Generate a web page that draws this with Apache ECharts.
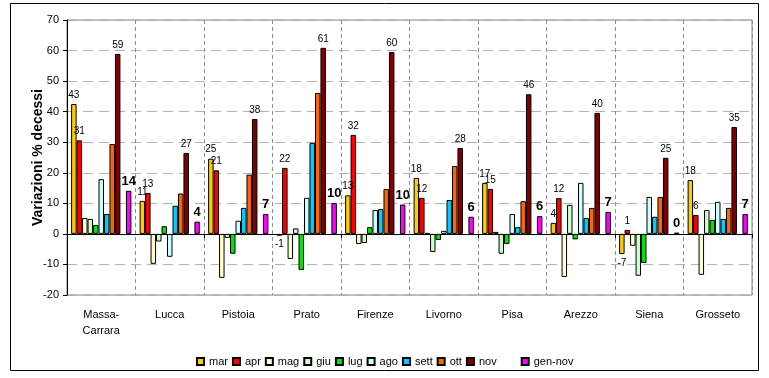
<!DOCTYPE html>
<html>
<head>
<meta charset="utf-8">
<script src="https://cdn.jsdelivr.net/npm/echarts@6/dist/echarts.min.js"></script>
<style>
html,body{margin:0;padding:0;background:#fff;}
#c{width:769px;height:378px;}
</style>
</head>
<body>
<div id="c"></div>
<script>
const categories = ['Massa-Carrara','Lucca','Pistoia','Prato','Firenze','Livorno','Pisa','Arezzo','Siena','Grosseto'];
const mar    = [42.5, 10.8, 24.6, -0.6, 12.6, 18.3, 16.7, 3.6, -6.6, 17.6];
const apr    = [30.6, 13.4, 20.8, 21.6, 32.4, 11.8, 14.7, 11.7, 1.3, 6.2];
const mag    = [5.2, -9.8, -14.4, -8.2, -3.3, 0.3, 0.65, -14.1, -3.9, -13.4];
const giu    = [4.9, -2.5, -1.3, 1.8, -3.0, -5.9, -6.5, 9.5, -13.7, 7.8];
const lug    = [2.9, 2.5, -6.5, -11.8, 2.2, -2.0, -3.3, -1.8, -9.5, 4.6];
const ago    = [17.9, -7.5, 4.3, 11.8, 7.8, 1.0, 6.5, 16.7, 12.1, 10.5];
const sett   = [6.5, 9.2, 8.5, 29.8, 8.1, 11.1, 2.2, 5.2, 5.6, 4.9];
const ott    = [29.4, 13.2, 19.4, 46.1, 14.7, 22.2, 10.7, 8.5, 12.1, 8.5];
const nov    = [58.9, 26.5, 37.6, 60.9, 59.5, 28.1, 45.7, 39.6, 24.9, 35.0];
const genNov = [14.1, 4.0, 6.5, 10.1, 9.6, 5.6, 5.8, 7.2, 0.4, 6.5];
const blank  = [null, null, null, null, null, null, null, null, null, null];

const FONT = "'Liberation Sans', Arial, sans-serif";

const seriesDefs = [
  {name:'mar', data:mar, color:'#FFCC00', label:'small'},
  {name:'apr', data:apr, color:'#FF0000', label:'small'},
  {name:'mag', data:mag, color:'#FFFFCC'},
  {name:'giu', data:giu, color:'#CCFFCC'},
  {name:'lug', data:lug, color:'#00E600'},
  {name:'ago', data:ago, color:'#CCFFFF'},
  {name:'sett', data:sett, color:'#00CCFF'},
  {name:'ott', data:ott, color:'#FF6600'},
  {name:'nov', data:nov, color:'#800000', label:'small'},
  {name:' ', data:blank, color:'transparent'},
  {name:'gen-nov', data:genNov, color:'#FF00FF', label:'big'}
];

const series = seriesDefs.map(function(d){
  const s = {
    name: d.name,
    type: 'bar',
    barGap: '0%',
    barCategoryGap: '12%',
    itemStyle: {color: d.color, borderColor: d.color === 'transparent' ? 'transparent' : '#000', borderWidth: 1},
    emphasis: {disabled: true},
    data: d.data.map(function(v){
      if (d.label && v !== null && v < 0) return {value: v, label: {position: 'bottom'}};
      return v;
    })
  };
  if (d.label) {
    s.label = {
      show: true,
      position: 'top',
      distance: d.label === 'big' ? 3 : 4,
      color: '#000',
      fontFamily: FONT,
      fontSize: d.label === 'big' ? 13 : 10,
      fontWeight: d.label === 'big' ? 'bold' : 'normal',
      formatter: function(p){ return String(Math.round(p.value)); }
    };
  }
  return s;
});

const chart = echarts.init(document.getElementById('c'), null, {renderer:'canvas'});
chart.setOption({
  animation: false,
  backgroundColor: '#fff',
  textStyle: {fontFamily: FONT},
  graphic: [{
    type: 'rect', z: -10, silent: true,
    shape: {x: 10.5, y: 3.5, width: 748, height: 367},
    style: {fill: null, stroke: '#000', lineWidth: 1}
  }],
  grid: {left: 67, top: 20, right: 17, bottom: 83, show: true, borderColor: '#808080', borderWidth: 1, backgroundColor: 'transparent'},
  legend: {
    left: 196, top: 356, itemWidth: 7, itemHeight: 7, itemGap: 4, padding: 0,
    textStyle: {fontSize: 11, color: '#000', fontFamily: FONT},
    selectedMode: false,
    data: seriesDefs.map(function(d){
      if (d.name === ' ') return {name: ' ', itemStyle: {color: 'transparent', borderColor: 'transparent'}};
      return {name: d.name, icon: 'rect'};
    })
  },
  xAxis: [{
    type: 'category',
    data: categories,
    position: 'bottom',
    axisLine: {show: false, onZero: false},
    axisTick: {show: false},
    axisLabel: {
      color: '#000', fontSize: 11, fontFamily: FONT, margin: 12, lineHeight: 16, interval: 0,
      formatter: function(v){ return v.replace('-', '-\n'); }
    },
    splitLine: {show: true, lineStyle: {color: '#909090', type: [4, 3], width: 1}}
  }, {
    type: 'category',
    data: categories,
    position: 'top',
    axisLine: {show: true, onZero: true, lineStyle: {color: '#000', width: 1}},
    axisTick: {show: true, inside: true, length: 4, lineStyle: {color: '#000'}},
    axisLabel: {show: false},
    splitLine: {show: false}
  }],
  yAxis: {
    type: 'value',
    min: -20, max: 70, interval: 10,
    name: 'Variazioni % decessi',
    nameLocation: 'middle',
    nameGap: 22,
    nameMoveOverlap: false,
    nameTextStyle: {fontSize: 14, fontWeight: 'bold', color: '#000', fontFamily: FONT},
    axisLine: {show: true, lineStyle: {color: '#000', width: 1}},
    axisTick: {show: true, length: 4, lineStyle: {color: '#000'}},
    axisLabel: {color: '#000', fontSize: 11, margin: 8, fontFamily: FONT},
    splitLine: {show: true, lineStyle: {color: '#b0b0b0', type: [10, 6], width: 1}}
  },
  series: series
});
</script>
</body>
</html>
